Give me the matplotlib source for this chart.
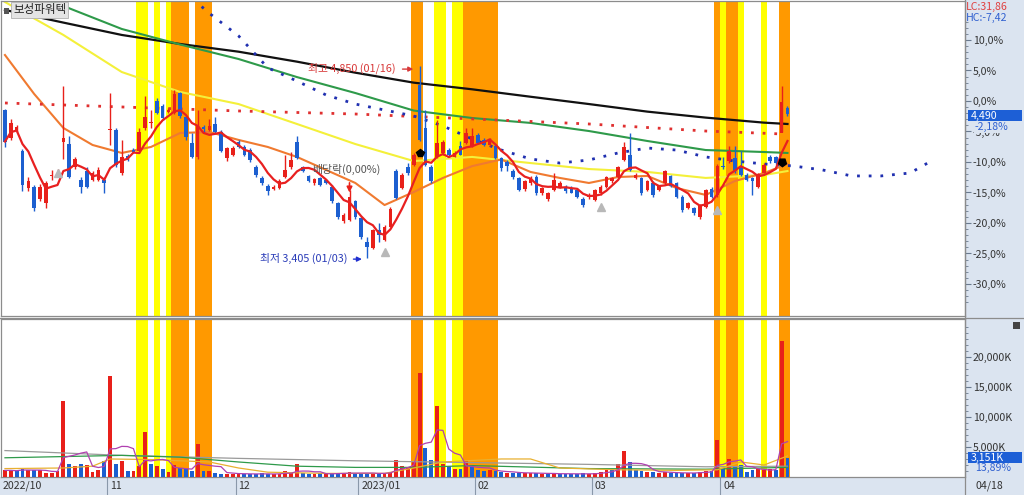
import numpy as np
import pandas as pd
import matplotlib
matplotlib.use("Agg")
import matplotlib.pyplot as plt
from matplotlib import transforms
from matplotlib.patches import Rectangle

plt.rcParams['font.family'] = ['Noto Sans CJK KR', 'DejaVu Sans']

# ---------------- data ----------------
stock_name = "보성파워텍"
base_price = 4590          # 0,0% reference of the right axis

opens = [4520, 4310, 4370, 4215, 3935, 3945, 3855, 3825, 4025, 4040,
         4285, 4270, 4095, 3995, 4060, 3995, 3995, 3995, 4370, 4370,
         4045, 4175, 4220, 4210, 4385, 4425, 4590, 4555, 4510, 4500,
         4650, 4470, 4275, 4165, 4395, 4370, 4415, 4360, 4160, 4185,
         4285, 4245, 4220, 4095, 4010, 3950, 3930, 3935, 4020, 4090,
         4285, 4090, 4025, 3970, 4010, 3995, 3945, 3820, 3685, 3695,
         3835, 3710, 3530, 3480, 3620, 3545, 3645, 4060, 3935, 4095,
         4110, 4710, 4390, 4095, 4170, 4195, 4220, 4170, 4250, 4275,
         4250, 4335, 4295, 4260, 4250, 4160, 4130, 4065, 4010, 3925,
         3970, 4020, 3895, 3850, 3920, 3945, 3940, 3935, 3920, 3855,
         3865, 3845, 3895, 3945, 3985, 4020, 4145, 4185, 4010, 4010,
         3920, 3970, 3920, 3970, 4025, 3970, 3870, 3785, 3785, 3715,
         3795, 3925, 3885, 4100, 4135, 4160, 4095, 4035, 4010, 3945,
         4050, 4170, 4165, 4350, 4535]
highs = [4530, 4455, 4410, 4225, 4020, 3960, 3965, 3990, 4070, 4075,
         4700, 4325, 4170, 4020, 4095, 4060, 4095, 4020, 4650, 4385,
         4295, 4190, 4235, 4390, 4625, 4520, 4615, 4570, 4540, 4675,
         4655, 4480, 4350, 4525, 4410, 4455, 4470, 4370, 4245, 4250,
         4300, 4260, 4235, 4105, 4025, 3965, 3955, 4000, 4185, 4205,
         4330, 4100, 4035, 4010, 4020, 4005, 3960, 3830, 3745, 3920,
         3845, 3720, 3570, 3630, 3670, 3655, 3790, 4075, 4050, 4125,
         4195, 4850, 4520, 4105, 4450, 4300, 4235, 4215, 4290, 4390,
         4390, 4350, 4310, 4310, 4265, 4170, 4145, 4080, 4020, 3995,
         4025, 4035, 3945, 3905, 4050, 3985, 3955, 3950, 3935, 3865,
         3895, 3930, 3960, 4025, 4020, 4100, 4285, 4350, 4045, 4020,
         3995, 3985, 3960, 4070, 4035, 3980, 3880, 3830, 3795, 3815,
         3930, 3945, 4115, 4170, 4255, 4255, 4210, 4045, 4020, 4050,
         4125, 4180, 4175, 4705, 4550]
lows = [4245, 4295, 4355, 3910, 3910, 3760, 3840, 3785, 3995, 4020,
        4150, 4010, 4080, 3900, 3935, 3985, 3985, 3900, 4260, 4095,
        4030, 4135, 4195, 4200, 4370, 4385, 4490, 4450, 4500, 4490,
        4465, 4295, 4160, 4155, 4350, 4365, 4350, 4205, 4135, 4175,
        4235, 4175, 4130, 4020, 3960, 3885, 3920, 3925, 4010, 4080,
        4150, 4055, 3980, 3960, 3950, 3965, 3820, 3700, 3675, 3685,
        3705, 3555, 3405, 3475, 3530, 3535, 3640, 3850, 3925, 4035,
        4100, 4290, 4100, 3970, 4160, 4185, 4175, 4165, 4180, 4265,
        4245, 4265, 4250, 4250, 4150, 4060, 4060, 4005, 3910, 3915,
        3960, 3885, 3885, 3840, 3910, 3935, 3900, 3895, 3860, 3790,
        3855, 3835, 3885, 3935, 3975, 4010, 4140, 4060, 4000, 3885,
        3910, 3870, 3910, 3960, 3940, 3860, 3755, 3775, 3730, 3700,
        3785, 3860, 3870, 4080, 4125, 4050, 4025, 3985, 3885, 3935,
        4045, 4125, 4115, 4360, 4480]
closes = [4285, 4425, 4395, 3960, 3985, 3785, 3945, 3975, 4035, 4050,
          4310, 4020, 4155, 3945, 3945, 4050, 4070, 3975, 4380, 4110,
          4170, 4145, 4205, 4360, 4470, 4435, 4500, 4460, 4520, 4645,
          4475, 4320, 4165, 4410, 4380, 4400, 4360, 4215, 4235, 4235,
          4245, 4185, 4145, 4035, 3970, 3910, 3940, 3985, 4070, 4145,
          4160, 4065, 3990, 4000, 3960, 3975, 3835, 3720, 3735, 3870,
          3720, 3570, 3495, 3620, 3580, 3645, 3780, 3860, 4035, 4045,
          4185, 4300, 4110, 3985, 4275, 4285, 4185, 4200, 4185, 4350,
          4325, 4275, 4260, 4295, 4160, 4085, 4100, 4015, 3920, 3985,
          4010, 3895, 3935, 3895, 3995, 3970, 3910, 3900, 3870, 3810,
          3885, 3920, 3945, 4015, 4010, 4090, 4245, 4070, 4035, 3895,
          3985, 3885, 3950, 4060, 3950, 3870, 3770, 3820, 3745, 3805,
          3920, 3870, 4100, 4090, 4210, 4060, 4035, 3995, 3985, 4040,
          4110, 4135, 4125, 4585, 4490]
volumes_k = [1100, 1100, 950, 1500, 1100, 1100, 1100, 700, 700, 950,
             12700, 2200, 1800, 2200, 1950, 830, 1100, 2700, 16800, 2200,
             2700, 950, 950, 1800, 7500, 2200, 1800, 1300, 830, 1950,
             1560, 1300, 950, 5450, 950, 950, 700, 550, 550, 550,
             500, 550, 450, 500, 600, 500, 450, 550, 1000, 600,
             2100, 700, 500, 450, 600, 500, 600, 700, 600, 800,
             550, 600, 700, 650, 500, 600, 900, 2900, 1800, 1650,
             2500, 17300, 4800, 2800, 11800, 2100, 1800, 1300, 1300, 2700,
             1650, 1100, 950, 1100, 950, 830, 700, 700, 600, 650,
             700, 600, 500, 550, 600, 500, 550, 450, 500, 600,
             550, 600, 800, 1100, 1300, 2200, 4300, 2500, 1100, 1000,
             900, 800, 700, 800, 650, 700, 600, 650, 700, 900,
             1000, 1000, 6100, 1500, 3000, 1650, 1950, 800, 1100, 1300,
             1200, 1300, 1200, 22600, 3151]

# long moving averages (index, price)
ma_idx = [0, 10, 20, 30, 40, 50, 60, 70, 80, 90, 100, 110, 120, 130, 134]
ma240 = [5275, 5180, 5087, 5019, 4961, 4886, 4803, 4728, 4678, 4622, 4567, 4510, 4465, 4427, 4417]
ma120 = [5463, 5305, 5132, 5015, 4906, 4770, 4650, 4518, 4462, 4425, 4364, 4289, 4221, 4206, 4199]
ma60 = [5335, 5087, 4808, 4658, 4567, 4417, 4266, 4138, 4169, 4123, 4078, 4056, 4011, 4033, 4063]
ma20_idx = [0, 5, 10, 15, 20, 25, 30, 35, 40, 45, 50, 55, 60, 65, 70, 75, 80, 85, 90,
            95, 100, 105, 110, 115, 120, 125, 130, 134]
ma20 = [4936, 4643, 4387, 4259, 4199, 4244, 4349, 4357, 4297, 4244, 4169, 4071, 3973, 3807,
        3905, 4011, 4100, 4150, 4056, 4011, 3973, 4018, 4026, 3935, 3883, 3988, 4048, 4116]
red_dot_idx = [0, 20, 40, 60, 80, 100, 120, 133]
red_dot = [4575, 4545, 4515, 4492, 4455, 4417, 4364, 4342]
blue_dot_idx = [30, 35, 40, 45, 50, 55, 60, 65, 70, 75, 80, 85, 90, 95, 100, 105, 110,
                115, 120, 125, 130, 135, 140, 145, 150, 155, 158]
blue_dot = [5440, 5250, 5080, 4840, 4740, 4635, 4567, 4522, 4477, 4402, 4304, 4221, 4154,
            4123, 4146, 4199, 4236, 4221, 4169, 4138, 4116, 4101, 4071, 4026, 4026, 4048, 4123]

# volume moving averages
vgray_idx = [0, 20, 40, 60, 80, 100, 120, 134]
vgray = [4400, 3600, 3100, 2700, 2400, 2100, 1700, 1800]
vgreen_idx = [0, 20, 30, 40, 50, 60, 70, 80, 100, 120, 134]
vgreen = [3200, 3600, 3300, 2500, 1800, 1600, 1600, 1900, 1400, 1300, 1600]
vorange_idx = [0, 10, 15, 18, 25, 35, 40, 45, 55, 65, 70, 75, 85, 90, 95, 105, 115, 122, 126, 130, 134]
vorange = [1400, 1500, 1800, 3000, 2900, 2500, 1500, 800, 600, 600, 1500, 2500, 3000, 3000,
           1500, 1200, 1100, 1200, 2500, 2000, 3500]

yellow_days = [23, 24, 26, 28, 74, 75, 77, 78, 123, 126, 130]
orange_days = [29, 30, 31, 33, 34, 35, 70, 71, 79, 80, 81, 82, 83, 84, 122, 124, 125, 133, 134]

month_starts = [18, 40, 61, 81, 101, 123]
month_labels = ['11', '12', '2023/01', '02', '03', '04']
first_label = '2022/10'
last_date = '04/18'

pct_ticks = [10, 5, 0, -5, -10, -15, -20, -25, -30]
vol_ticks = [5000, 10000, 15000, 20000]

# ---------------- style ----------------
RED = '#e8201a'
BLUE = '#1c5fd0'
PANEL = '#dbe4f0'
W, H = 1024, 495

fig = plt.figure(figsize=(W / 100, H / 100), dpi=100)
fig.patch.set_facecolor('white')
fig.add_artist(Rectangle((965 / W, 0), 1 - 965 / W, 1, transform=fig.transFigure,
                         facecolor=PANEL, edgecolor='none', zorder=0))
fig.add_artist(Rectangle((0, 0), 965 / W, 18 / H, transform=fig.transFigure,
                         facecolor=PANEL, edgecolor='none', zorder=0))

ax_p = fig.add_axes([1 / W, 1 - 316 / H, 964 / W, 315 / H])
ax_v = fig.add_axes([1 / W, 1 - 477 / H, 964 / W, 158 / H], sharex=ax_p)

n = len(closes)
idx = np.arange(n)
o = np.array(opens, float); c = np.array(closes, float)
h = np.array(highs, float); l = np.array(lows, float)
v = np.array(volumes_k, float)


def groups(days):
    out = []
    s = p = days[0]
    for d in days[1:]:
        if d == p + 1:
            p = d
        else:
            out.append((s, p)); s = p = d
    out.append((s, p))
    return out


for ax in (ax_p, ax_v):
    for a, b in groups(yellow_days):
        ax.axvspan(a - 0.5, b + 0.5, color='#ffff00', lw=0, zorder=0.5, antialiased=False)
    for a, b in groups(orange_days):
        ax.axvspan(a - 0.5, b + 0.5, color='#ff9900', lw=0, zorder=0.6, antialiased=False)

# price lines
ax_p.plot(ma_idx, ma240, color='#111111', lw=1.6, zorder=2)
ax_p.plot(ma_idx, ma120, color='#2e9a4a', lw=1.5, zorder=2)
ax_p.plot(ma_idx, ma60, color='#f4f03a', lw=1.5, zorder=2)
ax_p.plot(ma20_idx, ma20, color='#f07a30', lw=1.5, zorder=2)
ax_p.plot(red_dot_idx, red_dot, color='#e03030', lw=2, ls=(0, (1, 3.2)), zorder=2)
ax_p.plot(blue_dot_idx, blue_dot, color='#2030b0', lw=2, ls=(0, (1, 3.2)), zorder=2)
ma5 = pd.Series(c).rolling(5, min_periods=1).mean()
ax_p.plot(idx, ma5, color='#e82020', lw=1.6, zorder=5)

# candles
up = c >= o
cols = np.where(up, RED, BLUE)
ax_p.vlines(idx, l, h, colors=cols, lw=1, zorder=3)
body_lo = np.minimum(o, c)
body_h = np.maximum(np.abs(c - o), 8)
ax_p.bar(idx, body_h, bottom=body_lo, width=0.62, color=cols, lw=0, zorder=4)

# markers
ax_p.plot([9, 65, 102, 122], [4045, 3455, 3790, 3770], ls='none', marker='^',
          ms=6, color='#b8b8b8', zorder=6)
ax_p.plot([71], [4200], marker='p', ms=6, color='black', zorder=6)
ax_p.plot([133], [4130], marker=(5, 0, 180), ms=6, color='black', zorder=6)
ax_p.annotate('', xy=(59, 3880), xytext=(59, 3995),
              arrowprops=dict(arrowstyle='-|>', color=RED, lw=1.2, mutation_scale=8), zorder=6)

# annotations
ax_p.text(66.9, 4835, '최고 4,850 (01/16)', color='#d83838', fontsize=7.8,
          ha='right', va='center', zorder=7)
ax_p.annotate('', xy=(70.4, 4830), xytext=(67.6, 4830),
              arrowprops=dict(arrowstyle='-|>', color='#d83838', lw=1, mutation_scale=7))
ax_p.text(58.6, 3403, '최저 3,405 (01/03)', color='#2a3cb8', fontsize=7.8,
          ha='right', va='center', zorder=7)
ax_p.annotate('', xy=(61.6, 3400), xytext=(59.2, 3400),
              arrowprops=dict(arrowstyle='-|>', color='#2030d0', lw=1, mutation_scale=7))
ax_p.text(52.6, 4075, '배당락(0,00%)', color='#555555', fontsize=7.8,
          ha='left', va='center', zorder=7)

# volume
vol_up = np.r_[True, c[1:] >= c[:-1]]
ax_v.bar(idx, v, width=0.66, color=np.where(vol_up, RED, BLUE), lw=0, zorder=3)
ax_v.plot(vgray_idx, vgray, color='#9a9a9a', lw=0.9, zorder=4)
ax_v.plot(vgreen_idx, vgreen, color='#2e9a4a', lw=0.9, zorder=4)
ax_v.plot(vorange_idx, vorange, color='#e8b030', lw=0.9, zorder=4)
vma5 = pd.Series(v).rolling(5, min_periods=1).mean()
ax_v.plot(idx, vma5, color='#b040b0', lw=0.9, zorder=4)

# axes limits
ax_p.set_xlim(-0.68, 164.4)
ax_p.set_ylim(2972, 5342.5)
ax_v.set_ylim(0, 26300)

for ax in (ax_p, ax_v):
    ax.set_facecolor('white')
    for sp in ax.spines.values():
        sp.set_color('#8c8c8c'); sp.set_linewidth(0.9)
    ax.tick_params(axis='x', which='both', bottom=False, labelbottom=False)
    ax.yaxis.tick_right()
    ax.tick_params(axis='y', which='major', length=4, width=0.8, color='#6a7a90',
                   labelsize=7.6, labelcolor='#333333', pad=1.5)
    ax.tick_params(axis='y', which='minor', length=2, width=0.6, color='#6a7a90')

pt = [base_price * (1 + p / 100) for p in pct_ticks]
ax_p.set_yticks(pt)
ax_p.set_yticklabels([f"{p:.1f}%".replace('.', ',') for p in pct_ticks])
ax_p.set_yticks([base_price * (1 + p / 100) for p in range(-33, 14)], minor=True)
ax_v.set_yticks(vol_ticks)
ax_v.set_yticklabels([f"{t:,}K" for t in vol_ticks])
ax_v.set_yticks(np.arange(1000, 26000, 1000), minor=True)

# date axis
bt = transforms.blended_transform_factory(ax_v.transData, fig.transFigure)
for m, lab in zip(month_starts, month_labels):
    ax_v.plot([m - 0.5, m - 0.5], [0, 18 / H], transform=bt, color='#8a98aa', lw=0.8, clip_on=False)
    ax_v.text(m - 0.5 + 0.5, 9 / H, lab, transform=bt, fontsize=7.6, color='#333333',
              ha='left', va='center', clip_on=False)
fig.text(3 / W, 9 / H, first_label, fontsize=7.6, color='#333333', ha='left', va='center')
fig.text(975 / W, 9 / H, last_date, fontsize=7.6, color='#333333', ha='left', va='center')
fig.add_artist(plt.Line2D([965 / W, 965 / W], [0, 1], transform=fig.transFigure, color='#8c8c8c', lw=0.9))
fig.add_artist(plt.Line2D([0, 1], [1 - 317.5 / H] * 2, transform=fig.transFigure, color='#8c8c8c', lw=0.9))

# overlays on right panel
fig.text(966 / W, 1 - 7 / H, 'LC:31,86', color='#e04040', fontsize=7.6, ha='left', va='center')
fig.text(966 / W, 1 - 18 / H, 'HC:-7,42', color='#3060d0', fontsize=7.6, ha='left', va='center')
fig.add_artist(Rectangle((968 / W, 1 - 121 / H), 54 / W, 11 / H, transform=fig.transFigure,
                         facecolor='#1d5fd6', edgecolor='none', zorder=5))
fig.text(971 / W, 1 - 115.5 / H, '4,490', color='white', fontsize=7.6, ha='left', va='center', zorder=6)
fig.text(975 / W, 1 - 127 / H, '-2,18%', color='#3060d0', fontsize=7.6, ha='left', va='center', zorder=6,
         bbox=dict(boxstyle='square,pad=0.05', fc=PANEL, ec='none'))
fig.add_artist(Rectangle((968 / W, 1 - 463 / H), 54 / W, 11 / H, transform=fig.transFigure,
                         facecolor='#1d5fd6', edgecolor='none', zorder=5))
fig.text(971 / W, 1 - 457.5 / H, '3,151K', color='white', fontsize=7.6, ha='left', va='center', zorder=6)
fig.text(975 / W, 1 - 468 / H, '13,89%', color='#3060d0', fontsize=7.6, ha='left', va='center', zorder=6)
fig.add_artist(Rectangle((1013 / W, 1 - 329 / H), 7 / W, 7 / H, transform=fig.transFigure,
                         facecolor='#444444', edgecolor='none', zorder=5))

# stock name label
fig.add_artist(Rectangle((4 / W, 1 - 14 / H), 5 / W, 6 / H, transform=fig.transFigure,
                         facecolor='#555555', edgecolor='none', zorder=8))
fig.text(13 / W, 1 - 10 / H, stock_name, fontsize=8.3, color='#222222', ha='left', va='center', zorder=8,
         bbox=dict(boxstyle='square,pad=0.15', fc='#e4e4e4', ec='#b0b0b0', lw=0.6))

fig.savefig('out.png', dpi=100)
